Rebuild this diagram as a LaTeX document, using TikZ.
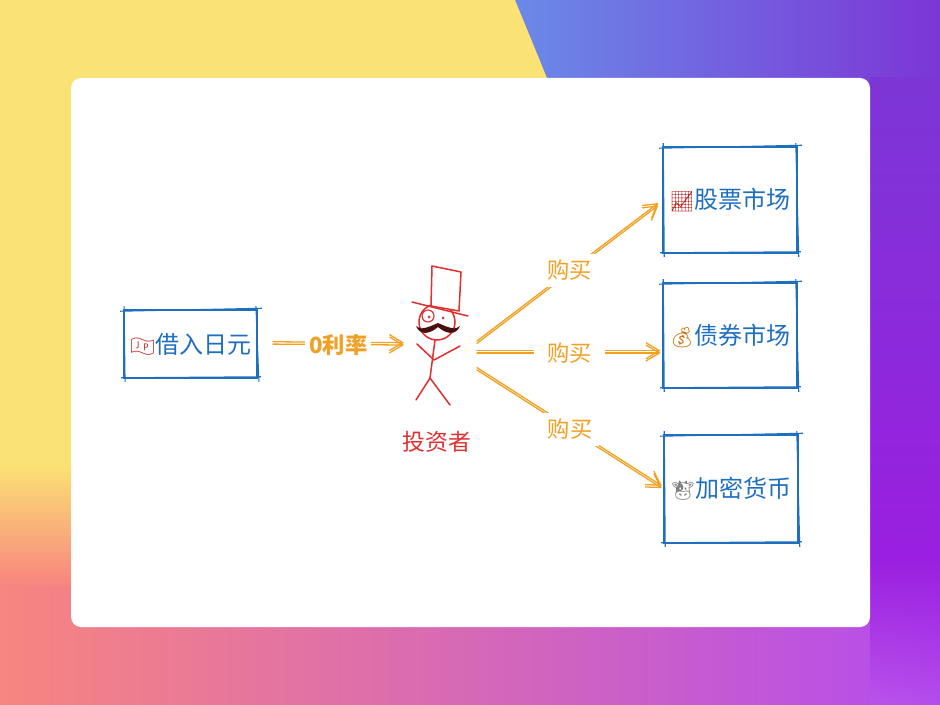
\documentclass[tikz,border=0pt]{standalone}
\usepackage{fontspec}
\setmainfont{Noto Sans CJK SC}
\newfontfamily\emojifont{Noto Emoji}
\usetikzlibrary{arrows.meta,calc,shadings}
\definecolor{exblue}{HTML}{1F6FC1}
\definecolor{exorange}{HTML}{F0A023}
\definecolor{exred}{HTML}{E03131}
\definecolor{mdark}{HTML}{4A1010}
\definecolor{bgyellow}{HTML}{FBE274}
\definecolor{bgsalmon}{HTML}{F8857F}
\definecolor{bgpink}{HTML}{DE7AD6}
\definecolor{bgpurpleR}{HTML}{B44CEE}
\definecolor{bgbaseR}{HTML}{BA53EA}
\definecolor{bgblue}{HTML}{6A8AE8}
\definecolor{bgviolet}{HTML}{7C36D6}
\definecolor{bgvioletB}{HTML}{8A2ADA}
\definecolor{bgdeep}{HTML}{9A1FE0}
\definecolor{bglight}{HTML}{B44CEE}
\tikzset{
  mkt/.style={draw=exblue, line width=1.3pt, text=exblue, inner sep=0pt,
    font=\fontsize{20.5pt}{24pt}\selectfont},
  skline/.style={draw=exblue, line width=0.9pt},
  arr/.style={draw=exorange, line width=1.1pt, line cap=round,
    -{Straight Barb[length=0.4cm, width=0.48cm, line width=1.1pt]}},
  lab/.style={fill=white, text=exorange, inner xsep=0.12cm, inner ysep=0.1cm,
    font=\fontsize{19pt}{22pt}\selectfont},
  fig/.style={draw=exred, line width=1.3pt, line cap=round, line join=round},
}
\newcommand\skbox[1]{%
  \draw[skline] ($(#1.north west)+(-3,2)$) -- ($(#1.north east)+(4,-1)$);
  \draw[skline] ($(#1.north east)+(-2,-3)$) -- ($(#1.south east)+(1,3)$);
  \draw[skline] ($(#1.south east)+(3,-2)$) -- ($(#1.south west)+(-2,-1)$);
  \draw[skline] ($(#1.south west)+(2,3)$) -- ($(#1.north west)+(1,-3)$);
}
\begin{document}
\begin{tikzpicture}[x=0.03cm, y=-0.03cm]
\useasboundingbox (0,0) rectangle (940,705);
% ---------- background ----------
\shade[left color=bgsalmon, middle color=bgpink, right color=bgpurpleR] (0,0) rectangle (940,705);
\shade[left color=bgblue, right color=bgviolet] (515,0) -- (940,0) -- (940,100) -- (556,100) -- cycle;
\shade[top color=bgviolet, bottom color=bgdeep] (870,78) rectangle (940,560);
\shade[upper left=bgdeep, upper right=bgdeep, lower left=bgbaseR, lower right=bglight] (870,560) rectangle (940,705);
\fill[bgyellow] (0,0) -- (515,0) -- (556,100) -- (80,100) -- (80,465) -- (0,465) -- cycle;
\shade[top color=bgyellow, bottom color=bgsalmon] (0,464) rectangle (80,585);
% ---------- card ----------
\fill[white, rounded corners=0.3cm] (71,78) rectangle (870,627);
% ---------- boxes ----------
\node[mkt, minimum width=4cm, minimum height=2.04cm] (b0) at (190.5,344)
  {{\emojifont\fontsize{17pt}{20pt}\selectfont\color{exred!85!black}🇯🇵}借入日元};
\node[mkt, minimum width=4.02cm, minimum height=3.18cm] (b1) at (730,200)
  {{\emojifont\fontsize{17pt}{20pt}\selectfont\color{exred!80!black}📈}股票市场};
\node[mkt, minimum width=4.02cm, minimum height=3.15cm] (b2) at (730,335.5)
  {{\emojifont\fontsize{17pt}{20pt}\selectfont\color{orange!80!black}💰}债券市场};
\node[mkt, minimum width=4.02cm, minimum height=3.24cm] (b3) at (731,489)
  {{\emojifont\fontsize{17pt}{20pt}\selectfont\color{gray}🐮}加密货币};
\skbox{b0}\skbox{b1}\skbox{b2}\skbox{b3}
% ---------- investor figure ----------
\draw[fig, fill=white] (437,322) circle (18);
\draw[fig, fill=white] (432,266) -- (461,272) -- (459,311) -- (431,306) -- cycle;
\draw[fig] (412,302) -- (468,316);
\draw[fig, line width=1pt] (428,316) circle (6);
\fill[exred] (429,317) circle (1.5);
\fill[exred] (443,318) circle (1.5);
\fill[mdark] (416,326) .. controls (420,336) and (430,334) .. (438,327)
  .. controls (446,334) and (456,336) .. (460,326)
  .. controls (456,331) and (447,327) .. (438,323)
  .. controls (429,327) and (420,331) .. (416,326) -- cycle;
\draw[fig] (435,340) -- (430,378);
\draw[fig] (417,344) -- (434,360) -- (460,346);
\draw[fig] (416,400) -- (430,378) -- (450,405);
\node[text=exred, font=\fontsize{19.5pt}{22pt}\selectfont] (inv) at (437,442) {投资者};
% ---------- connectors ----------
\coordinate (fL) at (404,345);
\coordinate (o1) at (477,341);
\coordinate (o2) at (477,353);
\coordinate (o3) at (477,370);
\draw[arr, shorten <=0.45cm] (b0.east) -- (fL);
\draw[arr, shorten <=0.45cm, transform canvas={yshift=0.07cm}] (b0.east) -- (fL);
\path (b0.east) -- (fL) node[lab, pos=0.55, font=\fontsize{19pt}{22pt}\selectfont\bfseries] {0利率};
\draw[arr, shorten >=0.15cm] (o1) -- (b1.west);
\draw[arr, shorten >=0.15cm, transform canvas={yshift=-0.07cm}] (o1) -- (b1.west);
\path (o1) -- (b1.west) node[lab, pos=0.5, inner sep=0.2cm] {购买};
\draw[arr, shorten >=0.05cm] (o2) -- (b2.west |- o2);
\draw[arr, shorten >=0.05cm, transform canvas={yshift=0.07cm}] (o2) -- (b2.west |- o2);
\path (o2) -- (b2.west |- o2) node[lab, pos=0.5, inner xsep=0.4cm] {购买};
\draw[arr, shorten >=0.05cm] (o3) -- (b3.west);
\draw[arr, shorten >=0.05cm, transform canvas={yshift=0.07cm}] (o3) -- (b3.west);
\path (o3) -- (b3.west) node[lab, pos=0.5, inner sep=0.2cm] {购买};
\end{tikzpicture}
\end{document}
